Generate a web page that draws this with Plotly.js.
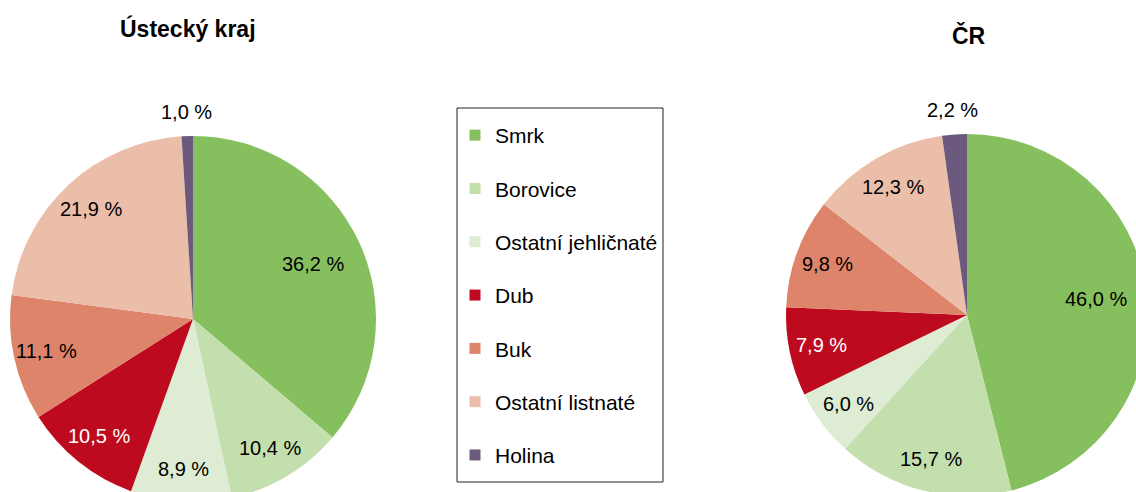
<!DOCTYPE html>
<html>
<head>
<meta charset="utf-8">
<script src="https://cdn.plot.ly/plotly-3.0.1.min.js"></script>
<style>
    html, body { margin: 0; padding: 0; overflow: hidden; background: #fff; }
    #chart { position: absolute; left: 0; top: 0; }
</style>
</head>
<body>
<div id="chart"></div>
<script>
// Kategorie a podíly (%)
const categories = ['Smrk', 'Borovice', 'Ostatní jehličnaté', 'Dub', 'Buk', 'Ostatní listnaté', 'Holina'];
const ustiValues = [36.2, 10.4, 8.9, 10.5, 11.1, 21.9, 1.0];
const crValues = [46.0, 15.7, 6.0, 7.9, 9.8, 12.3, 2.2];
const colors = ['#86bf5e', '#c4dfae', '#deecd4', '#be0a1e', '#dd846a', '#ebbeaa', '#6b5a7d'];
const titles = ['Ústecký kraj', 'ČR'];

const FONT = 'Liberation Sans, Arial, sans-serif';
// plocha je o něco větší než okno, aby koláče přesahovaly okraj jako v předloze
const W = 1160;
const H = 510;

const domains = [
    { x: [10 / W, 376 / W], y: [8 / H, 374 / H] },
    { x: [786 / W, 1148 / W], y: [14 / H, 376 / H] }
];

function fmt(v) {
    return v.toFixed(1).replace('.', ',') + ' %';
}

function pieTrace(values, domain) {
    return {
        type: 'pie',
        labels: categories,
        values: values,
        textinfo: 'none',
        marker: { colors: colors, line: { width: 0 } },
        sort: false,
        direction: 'clockwise',
        rotation: 0,
        showlegend: false,
        hoverinfo: 'none',
        domain: domain
    };
}

// popisky jako v Excelu (dál od středu než Plotly), poloha spočtená z hodnot a domény koláče
function sliceLabels(values, domain) {
    const x0 = domain.x[0] * W, x1 = domain.x[1] * W;
    const yTop = (1 - domain.y[1]) * H, yBot = (1 - domain.y[0]) * H;
    const r = Math.min(x1 - x0, yBot - yTop) / 2;
    const cx = (x0 + x1) / 2, cy = (yTop + yBot) / 2;
    const total = values.reduce((a, b) => a + b, 0);
    let cum = 0;
    return values.map((v, i) => {
        const mid = (cum + v / 2) / total * 2 * Math.PI;
        cum += v;
        let rr;
        if (i === values.length - 1) rr = r + 24;   // malá výseč - popisek venku
        else if (v / total > 0.3) rr = r * 0.72;
        else rr = r * 0.82;
        return {
            text: fmt(v),
            xref: 'paper', yref: 'paper',
            x: (cx + rr * Math.sin(mid)) / W,
            y: 1 - (cy - rr * Math.cos(mid)) / H,
            xanchor: 'center', yanchor: 'middle',
            showarrow: false,
            font: { family: FONT, size: 20, color: i === 3 ? '#ffffff' : '#000000' }
        };
    });
}

// pomocné stopy jen kvůli legendě (každá ve vlastní skupině kvůli mezerám)
const legendTraces = categories.map((c, i) => ({
    type: 'scatter',
    mode: 'markers',
    x: [null],
    y: [null],
    name: c,
    legendgroup: c,
    marker: { symbol: 'square', size: 11, color: colors[i] },
    hoverinfo: 'none'
}));

const data = [
    pieTrace(ustiValues, domains[0]),
    pieTrace(crValues, domains[1])
].concat(legendTraces);

const titleAnnotations = [
    {
        text: '<b>' + titles[0] + '</b>',
        xref: 'paper', yref: 'paper',
        x: 188 / W, y: 1 - 28 / H,
        xanchor: 'center', yanchor: 'middle',
        showarrow: false,
        font: { family: FONT, size: 23, color: '#000000' }
    },
    {
        text: '<b>' + titles[1] + '</b>',
        xref: 'paper', yref: 'paper',
        x: 969 / W, y: 1 - 36 / H,
        xanchor: 'center', yanchor: 'middle',
        showarrow: false,
        font: { family: FONT, size: 23, color: '#000000' }
    }
];

const layout = {
    width: W,
    height: H,
    margin: { l: 0, r: 0, t: 0, b: 0, pad: 0 },
    paper_bgcolor: '#ffffff',
    plot_bgcolor: '#ffffff',
    font: { family: FONT, size: 20, color: '#000000' },
    xaxis: { visible: false, fixedrange: true },
    yaxis: { visible: false, fixedrange: true },
    showlegend: true,
    legend: {
        x: 455 / W,
        xanchor: 'left',
        y: 1 - 115 / H,
        yanchor: 'top',
        traceorder: 'grouped',
        tracegroupgap: 23,
        font: { family: FONT, size: 21, color: '#000000' },
        bgcolor: 'rgba(0,0,0,0)',
        borderwidth: 0
    },
    shapes: [{
        type: 'rect',
        xref: 'paper',
        yref: 'paper',
        x0: 457 / W,
        x1: 663 / W,
        y0: 1 - 482 / H,
        y1: 1 - 108 / H,
        line: { color: '#222222', width: 1 },
        fillcolor: 'rgba(0,0,0,0)'
    }],
    annotations: titleAnnotations
        .concat(sliceLabels(ustiValues, domains[0]))
        .concat(sliceLabels(crValues, domains[1])),
    hovermode: false
};

Plotly.newPlot('chart', data, layout, { displayModeBar: false, staticPlot: true });
</script>
</body>
</html>
